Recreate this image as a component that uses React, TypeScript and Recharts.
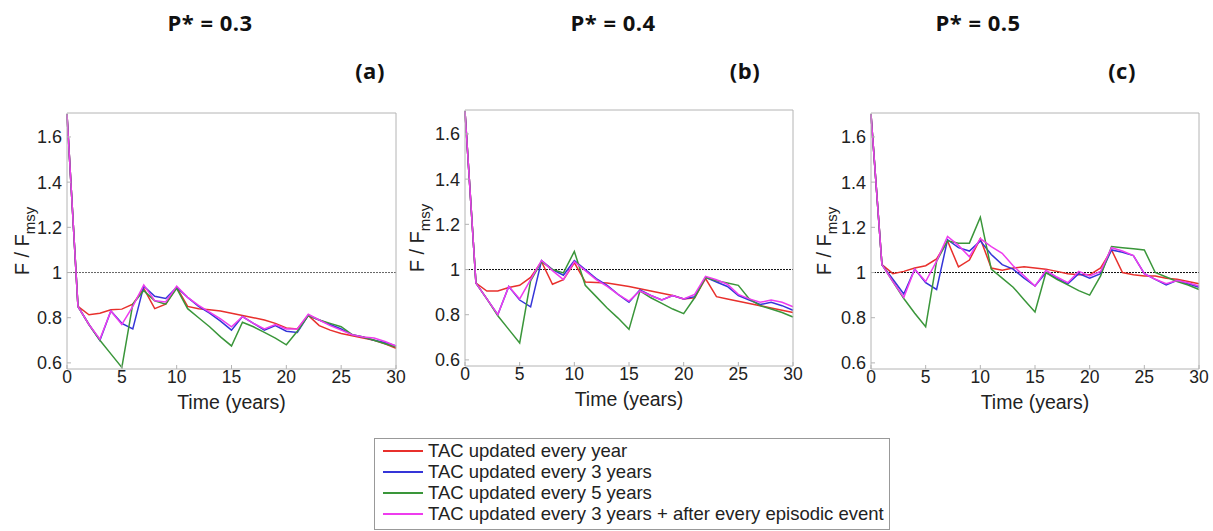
import React from 'react';
import { LineChart, Line, XAxis, YAxis, ReferenceLine } from 'recharts';

// time axis (years)
const years = [0, 1, 2, 3, 4, 5, 6, 7, 8, 9, 10, 11, 12, 13, 14, 15, 16, 17, 18, 19, 20, 21, 22, 23, 24, 25, 26, 27, 28, 29, 30];
const xTicks = [0, 5, 10, 15, 20, 25, 30];
const yTicks = [0.6, 0.8, 1, 1.2, 1.4, 1.6];

// P* = 0.3
const redA = [1.7, 0.85, 0.813, 0.82, 0.835, 0.838, 0.86, 0.93, 0.84, 0.86, 0.935, 0.85, 0.84, 0.835, 0.83, 0.82, 0.81, 0.8, 0.79, 0.775, 0.755, 0.75, 0.81, 0.765, 0.745, 0.73, 0.72, 0.71, 0.7, 0.685, 0.665];
const blueA = [1.7, 0.85, 0.77, 0.7, 0.83, 0.775, 0.75, 0.94, 0.895, 0.885, 0.935, 0.89, 0.85, 0.82, 0.785, 0.745, 0.805, 0.775, 0.745, 0.765, 0.74, 0.735, 0.81, 0.79, 0.77, 0.75, 0.725, 0.715, 0.7, 0.69, 0.675];
const greenA = [1.7, 0.85, 0.77, 0.7, 0.64, 0.58, 0.86, 0.92, 0.875, 0.86, 0.93, 0.84, 0.8, 0.76, 0.715, 0.675, 0.78, 0.76, 0.735, 0.71, 0.68, 0.74, 0.81, 0.79, 0.775, 0.76, 0.725, 0.715, 0.7, 0.685, 0.67];
const magentaA = [1.7, 0.85, 0.77, 0.705, 0.83, 0.77, 0.85, 0.945, 0.875, 0.87, 0.94, 0.89, 0.855, 0.825, 0.795, 0.76, 0.805, 0.775, 0.75, 0.77, 0.75, 0.75, 0.815, 0.79, 0.765, 0.745, 0.725, 0.715, 0.71, 0.695, 0.675];

// P* = 0.4
const redB = [1.7, 0.94, 0.905, 0.905, 0.92, 0.93, 0.965, 1.035, 0.935, 0.955, 1.03, 0.945, 0.943, 0.94, 0.933, 0.925, 0.915, 0.905, 0.895, 0.885, 0.87, 0.875, 0.96, 0.88, 0.87, 0.86, 0.85, 0.84, 0.83, 0.82, 0.81];
const blueB = [1.7, 0.94, 0.87, 0.8, 0.925, 0.865, 0.835, 1.04, 1.0, 0.975, 1.04, 1.0, 0.96, 0.93, 0.89, 0.855, 0.91, 0.885, 0.865, 0.885, 0.87, 0.88, 0.965, 0.945, 0.925, 0.885, 0.865, 0.845, 0.855, 0.84, 0.82];
const greenB = [1.7, 0.94, 0.87, 0.795, 0.735, 0.675, 0.95, 1.035, 1.0, 0.985, 1.08, 0.93, 0.88, 0.83, 0.785, 0.735, 0.905, 0.875, 0.85, 0.825, 0.805, 0.875, 0.965, 0.95, 0.94, 0.93, 0.87, 0.84, 0.825, 0.81, 0.79];
const magentaB = [1.7, 0.94, 0.87, 0.8, 0.925, 0.87, 0.955, 1.04, 0.995, 0.955, 1.035, 0.995, 0.955, 0.925, 0.89, 0.86, 0.905, 0.885, 0.865, 0.885, 0.87, 0.89, 0.97, 0.955, 0.935, 0.89, 0.87, 0.855, 0.865, 0.855, 0.835];

// P* = 0.5
const redC = [1.7, 1.035, 0.995, 1.005, 1.02, 1.03, 1.06, 1.14, 1.025, 1.055, 1.15, 1.02, 1.01, 1.02, 1.025, 1.02, 1.015, 1.005, 0.995, 0.99, 0.99, 1.02, 1.1, 1.0, 0.99, 0.985, 0.985, 0.975, 0.97, 0.96, 0.95];
const blueC = [1.7, 1.035, 0.97, 0.905, 1.015, 0.955, 0.925, 1.145, 1.11, 1.095, 1.14, 1.08, 1.035, 1.015, 0.975, 0.94, 1.0, 0.975, 0.95, 0.995, 0.975, 0.995, 1.1, 1.09, 1.075, 0.995, 0.97, 0.945, 0.965, 0.95, 0.935];
const greenC = [1.7, 1.035, 0.96, 0.885, 0.82, 0.76, 1.05, 1.14, 1.13, 1.13, 1.245, 1.015, 0.975, 0.935, 0.88, 0.825, 1.0, 0.97, 0.945, 0.92, 0.9, 0.985, 1.115, 1.11, 1.105, 1.1, 1.0, 0.98, 0.96, 0.945, 0.925];
const magentaC = [1.7, 1.035, 0.96, 0.89, 1.015, 0.96, 1.05, 1.16, 1.12, 1.07, 1.15, 1.115, 1.085, 1.03, 0.985, 0.94, 1.01, 0.98, 0.955, 1.005, 0.985, 1.005, 1.11, 1.095, 1.075, 0.995, 0.97, 0.95, 0.965, 0.955, 0.94];

const seriesNames = [
  'TAC updated every year',
  'TAC updated every 3 years',
  'TAC updated every 5 years',
  'TAC updated every 3 years + after every episodic event',
];
const colors = ['#e8302c', '#3535d8', '#3a963a', '#ee3cee'];
const keys = ['red', 'blue', 'green', 'magenta'];

const toRows = (r: number[], b: number[], g: number[], m: number[]) =>
  years.map((t, i) => ({ t, red: r[i], blue: b[i], green: g[i], magenta: m[i] }));

const panels = [
  { title: 'P* = 0.3', tag: '(a)', rows: toRows(redA, blueA, greenA, magentaA), left: 0, width: 410, top: 113, plotLeft: 67, plotRight: 396, labelDx: 0, titleX: 210, tagX: 370, refColor: '#666' },
  { title: 'P* = 0.4', tag: '(b)', rows: toRows(redB, blueB, greenB, magentaB), left: 405, width: 410, top: 110, plotLeft: 465, plotRight: 793, labelDx: -3, titleX: 613, tagX: 745, refColor: '#111' },
  { title: 'P* = 0.5', tag: '(c)', rows: toRows(redC, blueC, greenC, magentaC), left: 810, width: 403, top: 113, plotLeft: 871, plotRight: 1199, labelDx: -2, titleX: 978, tagX: 1122, refColor: '#111' },
];

const FONT = '"Liberation Sans", Arial, sans-serif';
const BOX = '#b4b4b4';
const Y_AXIS_W = 45;
const X_AXIS_H = 45;
const CHART_H = 420;

const YTitle = ({ viewBox, dx }: any) => {
  const cx = viewBox.x + dx;
  const cy = viewBox.y + viewBox.height / 2;
  return (
    <text
      x={cx}
      y={cy}
      transform={`rotate(-90 ${cx} ${cy})`}
      textAnchor="middle"
      dominantBaseline="central"
      fontSize={20}
      fill="#222"
      fontFamily={FONT}
    >
      F / F<tspan fontSize={15} dy={7}>msy</tspan>
    </text>
  );
};

const Panel = ({ p }: { p: (typeof panels)[number] }) => {
  const plotBottom = p.top + 256;
  const margin = {
    top: p.top - 1,
    right: p.left + p.width - p.plotRight - 1,
    left: p.plotLeft - p.left - Y_AXIS_W,
    bottom: CHART_H - plotBottom - X_AXIS_H,
  };
  return (
    <div style={{ position: 'absolute', left: p.left, top: 0 }}>
      <LineChart width={p.width} height={CHART_H} data={p.rows} margin={margin} style={{ fontFamily: FONT }}>
        <XAxis
          dataKey="t"
          type="number"
          domain={[0, 30]}
          ticks={xTicks}
          height={X_AXIS_H}
          tickSize={-4}
          tickMargin={6}
          stroke={BOX}
          tick={{ fill: '#222', fontSize: 17.5 }}
          label={{ value: 'Time (years)', position: 'insideBottom', offset: 5, fill: '#222', fontSize: 19.5 }}
        />
        <XAxis
          xAxisId="top"
          orientation="top"
          type="number"
          domain={[0, 30]}
          ticks={xTicks}
          height={1}
          tickSize={-4}
          tick={false}
          stroke={BOX}
        />
        <YAxis
          type="number"
          domain={[0.573, 1.706]}
          allowDataOverflow
          ticks={yTicks}
          width={Y_AXIS_W}
          tickSize={-4}
          tickMargin={9}
          stroke={BOX}
          tick={{ fill: '#222', fontSize: 18 }}
          label={{ content: (lp: any) => <YTitle viewBox={lp.viewBox} dx={p.labelDx} /> }}
        />
        <YAxis
          yAxisId="right"
          orientation="right"
          type="number"
          domain={[0.573, 1.706]}
          allowDataOverflow
          ticks={yTicks}
          width={1}
          tickSize={-4}
          tick={false}
          stroke={BOX}
        />
        <ReferenceLine y={1} stroke={p.refColor} strokeDasharray="2 1" strokeWidth={1} />
        {keys.map((k, i) => (
          <Line
            key={k}
            dataKey={k}
            type="linear"
            stroke={colors[i]}
            strokeWidth={1.5}
            dot={false}
            isAnimationActive={false}
          />
        ))}
      </LineChart>
    </div>
  );
};

const titleStyle: React.CSSProperties = {
  position: 'absolute',
  transform: 'translate(-50%, -50%)',
  fontFamily: '"Open Sans", sans-serif',
  fontWeight: 700,
  fontSize: 22,
  color: '#111',
  whiteSpace: 'nowrap',
  letterSpacing: 0.5,
};

export default function App() {
  return (
    <div style={{ position: 'absolute', left: 0, top: 0, width: 1213, height: 531, background: '#fff', overflow: 'hidden' }}>
      {panels.map((p) => (
        <React.Fragment key={p.tag}>
          <div style={{ ...titleStyle, left: p.titleX, top: 22 }}>{p.title}</div>
          <div style={{ ...titleStyle, left: p.tagX, top: 70 }}>{p.tag}</div>
          <Panel p={p} />
        </React.Fragment>
      ))}
      {/* shared legend */}
      <div
        style={{
          position: 'absolute',
          left: 374,
          top: 438,
          width: 516,
          height: 92,
          border: '1px solid #999',
          boxSizing: 'border-box',
          paddingTop: 1,
          fontFamily: FONT,
          fontSize: 18.5,
          color: '#222',
        }}
      >
        {seriesNames.map((name, i) => (
          <div key={name} style={{ display: 'flex', alignItems: 'center', height: 21 }}>
            <span style={{ display: 'inline-block', marginLeft: 8, width: 40, height: 2, background: colors[i] }} />
            <span style={{ marginLeft: 5, whiteSpace: 'nowrap' }}>{name}</span>
          </div>
        ))}
      </div>
    </div>
  );
}
